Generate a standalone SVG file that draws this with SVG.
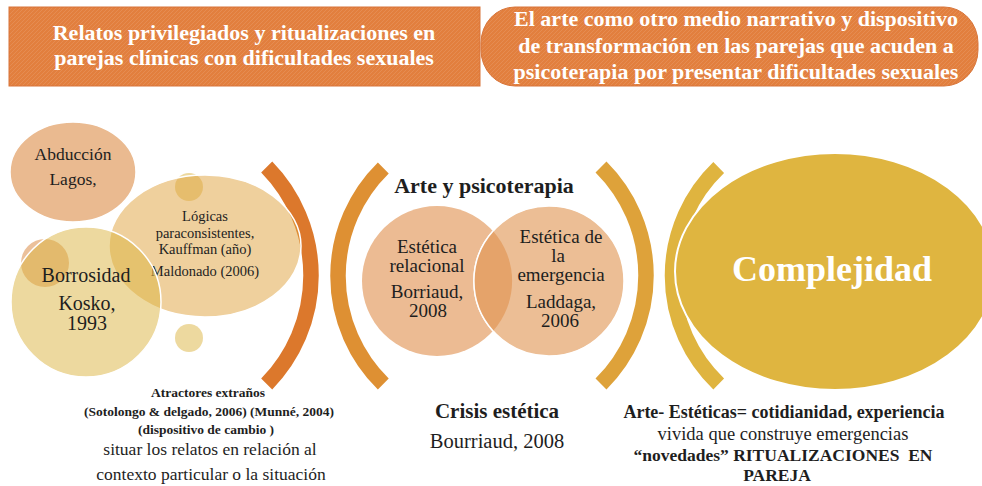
<svg xmlns="http://www.w3.org/2000/svg" width="982" height="486" viewBox="0 0 982 486">
<style>
text{font-family:"Liberation Serif","DejaVu Serif",serif;fill:#1e1e1e}
.c{text-anchor:middle}
.b{font-weight:bold}
.hd{fill:#ffffff;font-weight:bold;font-size:22px;text-anchor:middle}
.arc{fill:none;stroke-width:15.5;stroke-linecap:butt}
.edge{stroke:#ffffff;stroke-width:1.5}
</style>
<defs>
<pattern id="stripe" width="4" height="4" patternUnits="userSpaceOnUse">
<rect width="4" height="4" fill="#E27F3E"/>
<path d="M-1,1 L1,-1 M0,4 L4,0 M3,5 L5,3" stroke="#ffffff" stroke-opacity="0.10" stroke-width="1"/>
</pattern>
</defs>

<g id="header-left">
<rect x="9" y="7" width="471" height="79" fill="url(#stripe)" stroke="#D8753A" stroke-width="1"/>
<text class="hd" x="244" y="40">Relatos privilegiados y ritualizaciones en</text>
<text class="hd" x="244" y="65">parejas clínicas con dificultades sexuales</text>
</g>

<g id="header-right">
<rect x="481" y="7" width="497" height="79" rx="34" ry="36" fill="url(#stripe)" stroke="#D8753A" stroke-width="1"/>
<text class="hd" x="736" y="26">El arte como otro medio narrativo y dispositivo</text>
<text class="hd" x="736" y="53">de transformación en las parejas que acuden a</text>
<text class="hd" x="736" y="79">psicoterapia por presentar dificultades sexuales</text>
</g>

<g id="arcs">
<path class="arc" stroke="#DC782C" d="M266.7,167 A155,155 0 0 1 266.7,384"/>
<path class="arc" stroke="#DE9033" d="M383.3,168 A151.4,151.4 0 0 0 383.3,384"/>
<path class="arc" stroke="#DEA23A" d="M601,167 A153.3,153.3 0 0 1 601,384"/>
<path class="arc" stroke="#DFB43F" d="M718.7,167.5 A149.9,149.9 0 0 0 718.7,384"/>
</g>

<g id="node-abduccion">
<ellipse cx="73" cy="172" rx="63" ry="50" fill="#EABA90" class="edge"/>
<text class="c" x="73" y="160" font-size="17.5">Abducción</text>
<text class="c" x="73" y="185" font-size="17.5">Lagos,</text>
</g>

<g id="node-dots">
<circle cx="45" cy="263" r="24" fill="#EBC09A"/>
<circle cx="189" cy="187" r="14" fill="#DCB340" fill-opacity="0.5"/>
</g>

<g id="node-logicas">
<ellipse cx="205" cy="246" rx="96" ry="71" fill="#DFA13B" fill-opacity="0.5" class="edge"/>
<text class="c" x="205" y="221" font-size="14.5">Lógicas</text>
<text class="c" x="205" y="238" font-size="14.5">paraconsistentes,</text>
<text class="c" x="205" y="254" font-size="14.5">Kauffman (año)</text>
<text class="c" x="205" y="276" font-size="14.5">Maldonado (2006)</text>
</g>

<g id="node-borrosidad">
<circle cx="86" cy="302" r="75" fill="#DCB340" fill-opacity="0.5" class="edge"/>
<text class="c" x="86" y="282" font-size="20">Borrosidad</text>
<text class="c" x="87" y="310" font-size="20">Kosko,</text>
<text class="c" x="87" y="330" font-size="20">1993</text>
</g>

<g id="node-dot-bottom">
<circle cx="189" cy="338" r="14" fill="#DCB340" fill-opacity="0.5"/>
</g>

<g id="node-atractores">
<text class="c b" x="208" y="397" font-size="13.5">Atractores extraños</text>
<text class="c b" x="209" y="416" font-size="13.5">(Sotolongo &amp; delgado, 2006) (Munné, 2004)</text>
<text class="c b" x="206" y="434" font-size="13.5">(dispositivo de cambio )</text>
<text class="c" x="210" y="455" font-size="17.5">situar los relatos en relación al</text>
<text class="c" x="211" y="480" font-size="17.5">contexto particular o la situación</text>
</g>

<g id="node-arte">
<text class="c b" x="484" y="193" font-size="22">Arte y psicoterapia</text>
</g>

<g id="node-venn">
<circle cx="437" cy="281" r="75" fill="#ECBB93"/>
<circle cx="549" cy="281" r="75" fill="#ECBE95" class="edge"/>
<path d="M493,231 A75,75 0 0 1 493,331 A75,75 0 0 1 493,231 Z" fill="#E5A36A"/>
<path d="M493,331 A75,75 0 0 1 493,231" fill="none" stroke="#ffffff" stroke-width="1.5"/>
<text class="c" x="427" y="253" font-size="19">Estética</text>
<text class="c" x="427" y="272" font-size="19">relacional</text>
<text class="c" x="427" y="298" font-size="19">Borriaud,</text>
<text class="c" x="428" y="317" font-size="19">2008</text>
<text class="c" x="561" y="243" font-size="19">Estética de</text>
<text class="c" x="558" y="262" font-size="19">la</text>
<text class="c" x="561" y="281" font-size="19">emergencia</text>
<text class="c" x="561" y="308" font-size="19">Laddaga,</text>
<text class="c" x="560" y="327" font-size="19">2006</text>
</g>

<g id="node-crisis">
<text class="c b" x="497" y="418" font-size="21">Crisis estética</text>
<text class="c" x="497" y="448" font-size="20.5">Bourriaud, 2008</text>
</g>

<g id="node-complejidad">
<ellipse cx="835" cy="271.5" rx="160" ry="118.5" fill="#DFB540" stroke="#ffffff" stroke-width="2"/>
<text class="c b" x="832" y="281" font-size="36" style="fill:#ffffff">Complejidad</text>
</g>

<g id="node-arte-esteticas">
<text class="c b" x="784" y="418" font-size="18">Arte- Estéticas= cotidianidad, experiencia</text>
<text class="c" x="783" y="440" font-size="18.5">vivida que construye emergencias</text>
<text class="c b" x="783" y="461" font-size="17.5" xml:space="preserve">“novedades” RITUALIZACIONES  EN</text>
<text class="c b" x="777" y="481" font-size="17.5">PAREJA</text>
</g>
</svg>
